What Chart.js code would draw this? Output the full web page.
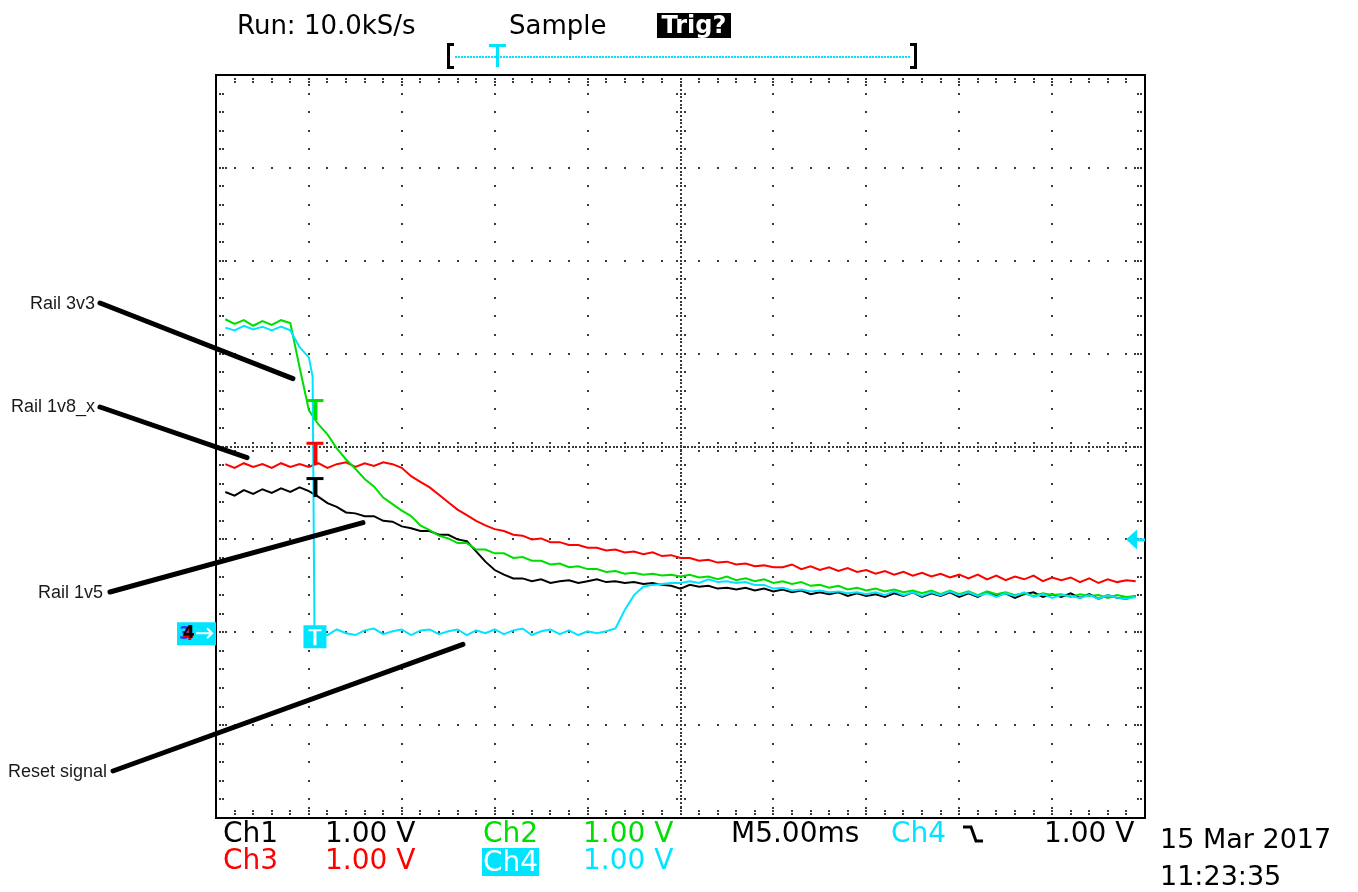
<!DOCTYPE html>
<html><head><meta charset="utf-8">
<script src="https://cdn.jsdelivr.net/npm/chart.js@4.4.1/dist/chart.umd.min.js"></script>
<style>
html,body{margin:0;padding:0;background:#fff;}
#wrap{position:relative;width:1358px;height:892px;overflow:hidden;background:#fff;}
#c{position:absolute;left:0;top:0;}
.t{position:absolute;white-space:nowrap;font-family:"DejaVu Sans",sans-serif;font-size:28px;line-height:1;}
.a{position:absolute;white-space:nowrap;font-family:"Liberation Sans",Arial,sans-serif;font-size:18px;color:#1a1a1a;line-height:1;}
</style></head><body>
<div id="wrap">
<canvas id="c" width="1358" height="892"></canvas>
<div class="t" style="left:237px;top:12px;font-size:26px;">Run: 10.0kS/s</div>
<div class="t" style="left:509px;top:12px;font-size:26px;">Sample</div>
<div class="t" style="left:657px;top:13px;width:74px;height:25px;background:#000;color:#fff;font-size:24px;font-weight:bold;text-align:center;line-height:25px;">Trig?</div>

<div class="t" style="left:223px;top:819px;color:#000;">Ch1</div>
<div class="t" style="left:325px;top:819px;color:#000;">1.00 V</div>
<div class="t" style="left:483px;top:819px;color:#00dd00;">Ch2</div>
<div class="t" style="left:583px;top:819px;color:#00dd00;">1.00 V</div>
<div class="t" style="left:731px;top:819px;color:#000;">M5.00ms</div>
<div class="t" style="left:891px;top:819px;color:#00e5ff;">Ch4</div>
<div class="t" style="left:1044px;top:819px;color:#000;">1.00 V</div>
<div class="t" style="left:223px;top:846px;color:#ff0000;">Ch3</div>
<div class="t" style="left:325px;top:846px;color:#ff0000;">1.00 V</div>
<div class="t" style="left:482px;top:848px;width:57px;height:28px;background:#00e5ff;color:#fff;line-height:28px;text-align:center;">Ch4</div>
<div class="t" style="left:583px;top:846px;color:#00e5ff;">1.00 V</div>
<div class="t" style="left:1160px;top:825px;color:#000;font-size:27px;">15 Mar 2017</div>
<div class="t" style="left:1160px;top:862px;color:#000;font-size:27px;">11:23:35</div>

<div class="a" style="right:1263px;top:294px;">Rail 3v3</div>
<div class="a" style="right:1263px;top:397px;">Rail 1v8_x</div>
<div class="a" style="right:1255px;top:583px;">Rail 1v5</div>
<div class="a" style="right:1251px;top:762px;">Reset signal</div>
</div>
<script>
// sample times in ms (5 ms/div, 10 div)
const SAMPLE_MS = [
 0.5,1,1.5,2,2.5,3,3.5,4,4.5,5,
 5.5,6,6.5,7,7.5,8,8.5,9,9.5,10,
 10.5,11,11.5,12,12.5,13,13.5,14,14.5,15,
 15.5,16,16.5,17,17.5,18,18.5,19,19.5,20,
 20.5,21,21.5,22,22.5,23,23.5,24,24.5,25,
 25.5,26,26.5,27,27.5,28,28.5,29,29.5,30,
 30.5,31,31.5,32,32.5,33,33.5,34,34.5,35,
 35.5,36,36.5,37,37.5,38,38.5,39,39.5,40,
 40.5,41,41.5,42,42.5,43,43.5,44,44.5,45,
 45.5,46,46.5,47,47.5,48,48.5,49,49.5
];
// Ch1 (black) Rail 1v5, volts
const CH1_V = [
 1.51,1.47,1.53,1.49,1.54,1.50,1.55,1.51,1.56,1.52,
 1.46,1.39,1.35,1.29,1.28,1.25,1.25,1.20,1.19,1.14,
 1.12,1.09,1.09,1.05,1.05,1.00,0.98,0.87,0.76,0.67,
 0.62,0.58,0.58,0.55,0.57,0.53,0.55,0.56,0.53,0.55,
 0.57,0.54,0.55,0.53,0.54,0.52,0.53,0.51,0.50,0.47,
 0.51,0.49,0.50,0.47,0.48,0.46,0.48,0.45,0.47,0.44,
 0.46,0.43,0.45,0.41,0.43,0.41,0.43,0.39,0.42,0.39,
 0.41,0.38,0.42,0.39,0.43,0.38,0.42,0.39,0.43,0.38,
 0.42,0.38,0.43,0.39,0.42,0.37,0.41,0.43,0.38,0.41,
 0.38,0.42,0.37,0.41,0.36,0.40,0.37,0.36,0.39
];
// Ch2 (green) Rail 3v3
const CH2_V = [
 3.37,3.32,3.36,3.30,3.35,3.31,3.36,3.33,2.85,2.39,
 2.24,2.13,1.98,1.86,1.76,1.65,1.57,1.45,1.38,1.31,
 1.25,1.15,1.10,1.04,1.01,0.96,0.96,0.89,0.89,0.85,
 0.85,0.80,0.81,0.77,0.77,0.73,0.74,0.70,0.71,0.68,
 0.68,0.65,0.66,0.63,0.64,0.62,0.63,0.61,0.62,0.60,
 0.62,0.59,0.60,0.57,0.60,0.56,0.58,0.55,0.57,0.53,
 0.55,0.52,0.54,0.50,0.51,0.48,0.50,0.46,0.48,0.45,
 0.47,0.44,0.46,0.43,0.45,0.42,0.45,0.41,0.45,0.41,
 0.44,0.40,0.44,0.41,0.43,0.40,0.42,0.39,0.42,0.40,
 0.41,0.38,0.41,0.39,0.40,0.37,0.40,0.38,0.39
];
// Ch3 (red) Rail 1v8_x
const CH3_V = [
 1.81,1.77,1.82,1.78,1.81,1.77,1.82,1.78,1.81,1.78,
 1.82,1.77,1.81,1.83,1.78,1.82,1.79,1.83,1.81,1.77,
 1.68,1.62,1.56,1.48,1.40,1.32,1.26,1.20,1.15,1.11,
 1.09,1.05,1.04,1.00,1.01,0.97,0.97,0.94,0.94,0.91,
 0.91,0.88,0.89,0.86,0.87,0.84,0.86,0.82,0.83,0.80,
 0.80,0.77,0.78,0.75,0.76,0.73,0.74,0.71,0.72,0.70,
 0.70,0.73,0.68,0.71,0.67,0.70,0.66,0.69,0.65,0.67,
 0.63,0.66,0.62,0.65,0.61,0.64,0.60,0.63,0.59,0.62,
 0.58,0.62,0.57,0.61,0.56,0.60,0.57,0.61,0.55,0.59,
 0.56,0.59,0.54,0.58,0.53,0.57,0.54,0.56,0.55
];
// Ch4 (cyan) Reset signal
const CH4_V = [
 3.28,3.25,3.30,3.26,3.29,3.25,3.29,3.25,3.07,2.96,
 0.02,-0.03,0.03,-0.01,-0.03,0.02,0.04,-0.02,0.01,0.03,
 -0.03,0.02,0.03,-0.02,0.01,0.03,-0.03,0.02,-0.01,0.03,
 -0.02,0.02,0.04,-0.03,0.01,0.03,-0.02,0.02,-0.03,0.01,
 -0.01,0.01,0.04,0.24,0.40,0.49,0.51,0.52,0.53,0.53,
 0.55,0.53,0.57,0.54,0.55,0.53,0.54,0.51,0.51,0.47,
 0.48,0.45,0.46,0.44,0.45,0.43,0.44,0.42,0.43,0.41,
 0.43,0.40,0.44,0.40,0.43,0.39,0.43,0.40,0.44,0.40,
 0.43,0.39,0.42,0.38,0.42,0.39,0.43,0.38,0.41,0.37,
 0.40,0.39,0.37,0.40,0.36,0.40,0.37,0.36,0.38
];
// extra samples on the Ch4 falling edge
const CH4_EDGE_MS = [5.2, 5.3];
const CH4_EDGE_V = [2.75, 0.02];

// axis ranges: time 0..50 ms, volts -2..6 (ground at -2 div)
const X_TICKS = [0,5,10,15,20,25,30,35,40,45,50];
const Y_TICKS = [-2,-1,0,1,2,3,4,5,6];

// marker positions (data units)
const TRIG_MS = 5.3;
const MARK_V = {ch2: 2.50, ch3: 2.04, ch1: 1.66, ch4: 0};
const TRIG_LEVEL_V = 1.0;
// callout targets (ms, V)
const CALLOUTS = [
 {label:'Rail 3v3', t:4.14, v:2.73, px:100, py:303},
 {label:'Rail 1v8_x', t:1.67, v:1.88, px:100, py:407},
 {label:'Rail 1v5', t:7.91, v:1.18, px:110, py:592},
 {label:'Reset signal', t:13.29, v:-0.13, px:113, py:771}
];

function zip(ts, vs){ return ts.map((t,i)=>({x:t, y:vs[i]})); }
const ch4Data = zip(SAMPLE_MS, CH4_V).concat(zip(CH4_EDGE_MS, CH4_EDGE_V)).sort((a,b)=>a.x-b.x);

const GREEN='#00dd00', RED='#ff0000', CYAN='#00e5ff';

const scope = {
 id:'scope',
 beforeDatasetsDraw(chart){
  const ctx=chart.ctx, xs=chart.scales.x, ys=chart.scales.y;
  const L=xs.getPixelForValue(X_TICKS[0]), R=xs.getPixelForValue(X_TICKS[X_TICKS.length-1]);
  const T=ys.getPixelForValue(Y_TICKS[Y_TICKS.length-1]), B=ys.getPixelForValue(Y_TICKS[0]);
  const divX=(R-L)/10, divY=(B-T)/8;
  ctx.save();
  ctx.fillStyle='#3a3a3a';
  const dot=(x,y)=>ctx.fillRect(Math.round(x)-1,Math.round(y)-1,2,2);
  for(let k=1;k<10;k++){
   const x=L+k*divX;
   if(k===5){
    for(let y=T;y<=B;y+=divY/25) dot(x,y);
    for(let j=0;j<=40;j++){const y=T+j*divY/5; dot(x-4,y); dot(x+4,y);}
   } else {
    for(let j=0;j<=40;j++) dot(x,T+j*divY/5);
   }
  }
  for(let k=1;k<8;k++){
   const y=T+k*divY;
   if(k===4){
    for(let x=L;x<=R;x+=divX/25) dot(x,y);
    for(let j=0;j<=50;j++){const x=L+j*divX/5; dot(x,y-4); dot(x,y+4);}
   } else {
    for(let j=0;j<=50;j++) dot(L+j*divX/5,y);
   }
  }
  for(let j=1;j<50;j++){
   const x=L+j*divX/5, major=(j%5===0);
   dot(x,T+4); dot(x,T+7); dot(x,B-4); dot(x,B-7);
   if(major){dot(x,T+10); dot(x,B-10);}
  }
  for(let j=1;j<40;j++){
   const y=T+j*divY/5, major=(j%5===0);
   dot(L+4,y); dot(L+7,y); dot(R-4,y); dot(R-7,y);
   if(major){dot(L+10,y); dot(R-10,y);}
  }
  ctx.strokeStyle='#000'; ctx.lineWidth=2;
  ctx.strokeRect(L,T,R-L,B-T);
  ctx.restore();
 },
 afterDatasetsDraw(chart){
  const ctx=chart.ctx, xs=chart.scales.x, ys=chart.scales.y;
  const L=xs.getPixelForValue(0), R=xs.getPixelForValue(50);
  const tx=xs.getPixelForValue(TRIG_MS);
  ctx.save();
  const tmark=(v,color,stem)=>{
   const y=ys.getPixelForValue(v);
   ctx.fillStyle=color;
   ctx.fillRect(tx-8,y-1,17,3);
   ctx.fillRect(tx-1,y,4,stem);
  };
  tmark(MARK_V.ch2,GREEN,20);
  tmark(MARK_V.ch3,RED,22);
  tmark(MARK_V.ch1,'#000',19);
  const y4=ys.getPixelForValue(MARK_V.ch4);
  ctx.fillStyle=CYAN; ctx.fillRect(tx-11,y4-7,23,23);
  ctx.fillStyle='#fff'; ctx.fillRect(tx-6,y4-3,13,2); ctx.fillRect(tx-1,y4-3,3,16);
  ctx.fillStyle=CYAN; ctx.fillRect(L-39,y4-10,39,23);
  ctx.font='bold 17px "DejaVu Sans"'; ctx.textBaseline='middle';
  ctx.fillStyle='#3030ff'; ctx.fillText('3',L-37,y4+2);
  ctx.fillStyle='#e00000'; ctx.fillText('4',L-34,y4+3);
  ctx.fillStyle='#000'; ctx.fillText('4',L-33,y4+1);
  ctx.strokeStyle='#fff'; ctx.lineWidth=2;
  ctx.beginPath(); ctx.moveTo(L-20,y4+1); ctx.lineTo(L-4,y4+1); ctx.moveTo(L-9,y4-4); ctx.lineTo(L-4,y4+1); ctx.lineTo(L-9,y4+6); ctx.stroke();
  const yt=ys.getPixelForValue(TRIG_LEVEL_V);
  ctx.fillStyle=CYAN;
  ctx.beginPath(); ctx.moveTo(R-19,yt); ctx.lineTo(R-8,yt-10); ctx.lineTo(R-8,yt+10); ctx.closePath(); ctx.fill();
  ctx.fillRect(R-9,yt-1,9,3);
  ctx.strokeStyle='#000'; ctx.lineWidth=5; ctx.lineCap='round';
  CALLOUTS.forEach(c=>{
   ctx.beginPath(); ctx.moveTo(c.px,c.py); ctx.lineTo(xs.getPixelForValue(c.t), ys.getPixelForValue(c.v)); ctx.stroke();
  });
  ctx.lineCap='butt';
  ctx.fillStyle='#000';
  ctx.fillRect(447,43,3,26); ctx.fillRect(447,43,7,3); ctx.fillRect(447,66,7,3);
  ctx.fillRect(914,43,3,26); ctx.fillRect(910,43,7,3); ctx.fillRect(910,66,7,3);
  ctx.fillStyle=CYAN;
  for(let x=455;x<910;x+=3) ctx.fillRect(x,56,2,2);
  ctx.fillRect(489,44,17,3); ctx.fillRect(496,44,3,23);
  ctx.strokeStyle='#000'; ctx.lineWidth=3;
  ctx.beginPath(); ctx.moveTo(963,827); ctx.lineTo(971,827); ctx.lineTo(976,841); ctx.lineTo(983,841); ctx.stroke();
  ctx.restore();
 }
};

new Chart(document.getElementById('c').getContext('2d'), {
 type:'line',
 data:{datasets:[
  {label:'Ch4 Reset signal', data:ch4Data, borderColor:CYAN, order:1},
  {label:'Ch2 Rail 3v3', data:zip(SAMPLE_MS,CH2_V), borderColor:GREEN, order:2},
  {label:'Ch1 Rail 1v5', data:zip(SAMPLE_MS,CH1_V), borderColor:'#000', order:3},
  {label:'Ch3 Rail 1v8_x', data:zip(SAMPLE_MS,CH3_V), borderColor:RED, order:4}
 ]},
 options:{
  responsive:false, animation:false, devicePixelRatio:1,
  layout:{padding:{left:216,top:75,right:213,bottom:74}},
  plugins:{legend:{display:false}, tooltip:{enabled:false}, title:{display:false}},
  elements:{point:{radius:0}, line:{borderWidth:2, tension:0, fill:false}},
  scales:{
   x:{type:'linear', min:X_TICKS[0], max:X_TICKS[X_TICKS.length-1], display:false},
   y:{type:'linear', min:Y_TICKS[0], max:Y_TICKS[Y_TICKS.length-1], display:false}
  }
 },
 plugins:[scope]
});
</script>
</body></html>
